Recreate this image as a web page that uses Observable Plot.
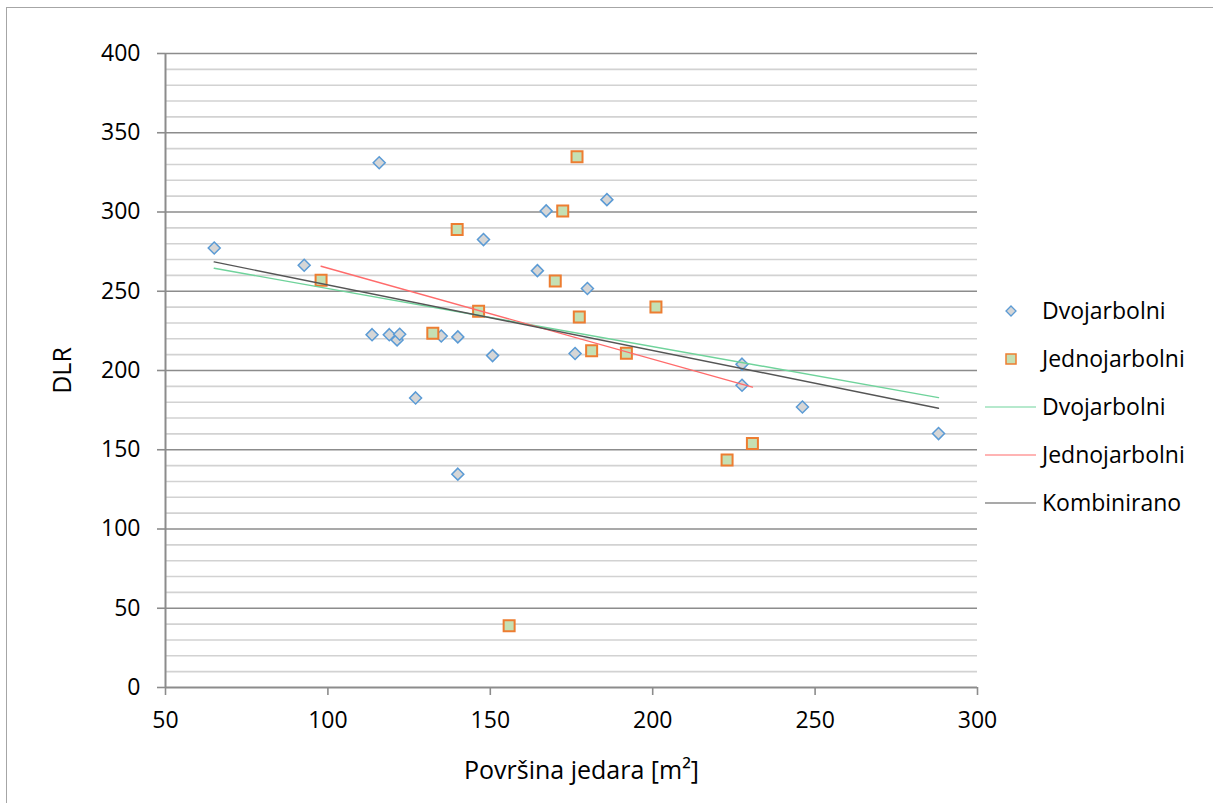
<!DOCTYPE html>
<html>
<head>
<meta charset="utf-8">
<script src="https://cdn.jsdelivr.net/npm/d3@7"></script>
<script src="https://cdn.jsdelivr.net/npm/@observablehq/plot@0.6"></script>
<style>
  html, body { margin: 0; padding: 0; background: #fff; overflow: hidden; }
  #wrap { position: relative; width: 1213px; height: 803px; font-family: "Open Sans", sans-serif; }
  #border { position: absolute; left: 6px; top: 7px; width: 1400px; height: 1000px; border: 1px solid #a6a6a6; box-sizing: border-box; pointer-events: none; }
  .leg { position: absolute; left: 0; top: 0; font-size: 23px; color: #000; white-space: nowrap; }
  .leg div.item { position: absolute; height: 32px; line-height: 32px; }
  .leg svg { position: absolute; }
</style>
</head>
<body>
<div id="wrap"><div id="border"></div><div id="chart"></div><div class="leg" id="legend"></div></div>
<script>
// ---- data ----
const dvoX = [65.0, 92.7, 115.8, 113.6, 118.9, 121.3, 122.1, 134.9, 140.0, 127.0, 140.0, 147.9, 150.7, 167.2, 185.9, 164.5, 179.9, 176.1, 227.5, 227.5, 246.1, 288.0];
const dvoY = [277.3, 266.4, 331.1, 222.6, 222.6, 219.3, 222.9, 221.8, 221.2, 182.7, 134.6, 282.6, 209.4, 300.7, 307.8, 263.0, 251.7, 210.7, 204.0, 190.7, 177.0, 160.2];
const jedX = [97.9, 139.8, 146.4, 132.3, 176.7, 172.3, 170.0, 177.4, 201.0, 181.2, 191.9, 230.7, 222.9, 155.8];
const jedY = [257.0, 288.9, 237.4, 223.5, 334.9, 300.7, 256.5, 233.8, 240.1, 212.4, 210.9, 153.9, 143.6, 38.9];
const dvoTrendX = [65, 288];
const dvoTrendY = [264.5, 182.9];
const jedTrendX = [97.9, 230.7];
const jedTrendY = [265.8, 189.5];
const kombTrendX = [65, 288];
const kombTrendY = [268.5, 176.2];
const xTicks = [50, 100, 150, 200, 250, 300];
const yTicks = [0, 50, 100, 150, 200, 250, 300, 350, 400];
const yMinor = d3.range(10, 400, 10).filter(v => v % 50 !== 0);
const seriesNames = ["Dvojarbolni", "Jednojarbolni", "Dvojarbolni", "Jednojarbolni", "Kombinirano"];
const xLabel = "Površina jedara [m²]";
const yLabel = "DLR";

const dvo = dvoX.map((x, i) => ({x, y: dvoY[i]}));
const jed = jedX.map((x, i) => ({x, y: jedY[i]}));
const tr = (X, Y) => X.map((x, i) => ({x, y: Y[i]}));

const chart = Plot.plot({
  width: 1213,
  height: 803,
  marginLeft: 165,
  marginRight: 236,
  marginTop: 53,
  marginBottom: 116,
  style: {fontFamily: "Open Sans, sans-serif", fontSize: "23px", color: "#000", background: "transparent"},
  x: {domain: [50, 300]},
  y: {domain: [0, 400]},
  marks: [
    Plot.ruleY(yMinor, {stroke: "#d2d2d2", strokeWidth: 1.6}),
    Plot.ruleY(yTicks.filter(v => v > 0), {stroke: "#8c8c8c", strokeWidth: 1.6}),
    Plot.axisY({ticks: yTicks, tickSize: 8, tickPadding: 17, stroke: "#8c8c8c", strokeWidth: 1.6, fontSize: 23, fill: "#000", label: null}),
    Plot.axisX({ticks: xTicks, tickSize: 8, tickPadding: 16, stroke: "#8c8c8c", strokeWidth: 1.6, fontSize: 23, fill: "#000", label: null}),
    Plot.text([yLabel], {frameAnchor: "left", rotate: -90, dx: -103, fontSize: 25, fill: "#000", lineAnchor: "middle", textAnchor: "middle"}),
    Plot.text([xLabel], {frameAnchor: "bottom", dx: 10, dy: 83, fontSize: 25, fill: "#000", lineAnchor: "middle", textAnchor: "middle"}),
    Plot.ruleX([50], {y1: 0, y2: 400, stroke: "#8c8c8c", strokeWidth: 2}),
    Plot.ruleY([0], {x1: 50, x2: 300, stroke: "#8c8c8c", strokeWidth: 2}),
    Plot.dot(dvo, {x: "x", y: "y", symbol: "diamond2", r: 5.4, fill: "#d6d6d6", stroke: "#5b9bd5", strokeWidth: 1.5}),
    Plot.dot(jed, {x: "x", y: "y", symbol: "square", r: 6.2, fill: "#c5e0b4", stroke: "#ed7d31", strokeWidth: 2}),
    Plot.line(tr(dvoTrendX, dvoTrendY), {x: "x", y: "y", stroke: "#6fd39b", strokeWidth: 1.4}),
    Plot.line(tr(jedTrendX, jedTrendY), {x: "x", y: "y", stroke: "#ff6b6b", strokeWidth: 1.4}),
    Plot.line(tr(kombTrendX, kombTrendY), {x: "x", y: "y", stroke: "#555555", strokeWidth: 1.4})
  ]
});
document.getElementById("chart").appendChild(chart);

// ---- legend (HTML overlay on the right) ----
const legend = document.getElementById("legend");
const legendItems = [
  {name: seriesNames[0], kind: "diamond", cy: 311},
  {name: seriesNames[1], kind: "square", cy: 359},
  {name: seriesNames[2], kind: "line", color: "#6fd39b", cy: 407},
  {name: seriesNames[3], kind: "line", color: "#ff6b6b", cy: 455},
  {name: seriesNames[4], kind: "line", color: "#555555", cy: 503}
];
for (const it of legendItems) {
  const ns = "http://www.w3.org/2000/svg";
  const svg = document.createElementNS(ns, "svg");
  svg.setAttribute("width", 56); svg.setAttribute("height", 20);
  svg.style.left = "983px"; svg.style.top = (it.cy - 10) + "px";
  if (it.kind === "diamond") {
    const p = document.createElementNS(ns, "path");
    p.setAttribute("d", "M28,5 L33,10 L28,15 L23,10 Z");
    p.setAttribute("fill", "#d6d6d6"); p.setAttribute("stroke", "#5b9bd5"); p.setAttribute("stroke-width", 1.3);
    svg.appendChild(p);
  } else if (it.kind === "square") {
    const r = document.createElementNS(ns, "rect");
    r.setAttribute("x", 23); r.setAttribute("y", 5); r.setAttribute("width", 10); r.setAttribute("height", 10);
    r.setAttribute("fill", "#c5e0b4"); r.setAttribute("stroke", "#ed7d31"); r.setAttribute("stroke-width", 1.5);
    svg.appendChild(r);
  } else {
    const l = document.createElementNS(ns, "line");
    l.setAttribute("x1", 2); l.setAttribute("x2", 53); l.setAttribute("y1", 10); l.setAttribute("y2", 10);
    l.setAttribute("stroke", it.color); l.setAttribute("stroke-width", 1.2);
    svg.appendChild(l);
  }
  legend.appendChild(svg);
  const d = document.createElement("div");
  d.className = "item";
  d.textContent = it.name;
  d.style.left = "1042px";
  d.style.top = (it.cy - 17) + "px";
  legend.appendChild(d);
}
</script>
</body>
</html>
